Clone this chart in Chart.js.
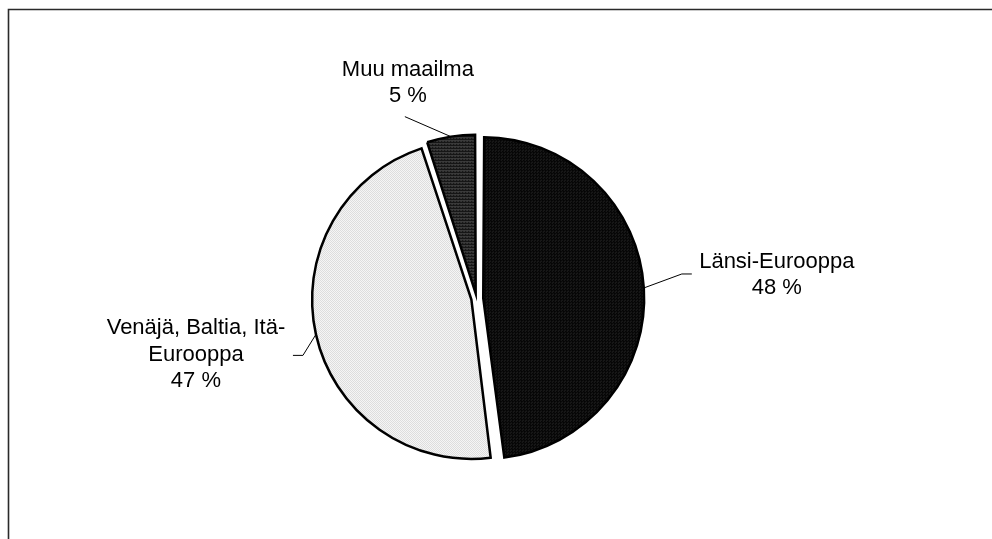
<!DOCTYPE html>
<html>
<head>
<meta charset="utf-8">
<script src="https://cdn.jsdelivr.net/npm/chart.js@4/dist/chart.umd.min.js"></script>
<style>
    html, body { margin: 0; padding: 0; background: #fff; }
    canvas { display: block; }
</style>
</head>
<body>
<canvas id="pieChart" width="992" height="539"></canvas>
<script>
// Chart data
const categories = ['Länsi-Eurooppa', 'Venäjä, Baltia, Itä-Eurooppa', 'Muu maailma'];
const shares = [48, 47, 5];
const labelLines = [['Länsi-Eurooppa'], ['Venäjä, Baltia, Itä-', 'Eurooppa'], ['Muu maailma']];

// label placement relative to the point on the slice edge
const labelLayout = [
    { elbow: [38, -14], end: [48, -14], text: [133, -20] },
    { elbow: [-13, 21], end: [-23, 21], text: [-120, 0] },
    { elbow: [-46, -20], end: [-46, -20], text: [-43, -61] }
];

function makePattern(base, dot, size, dots) {
    const c = document.createElement('canvas');
    c.width = size;
    c.height = size;
    const g = c.getContext('2d');
    g.fillStyle = base;
    g.fillRect(0, 0, size, size);
    g.fillStyle = dot;
    dots.forEach(d => g.fillRect(d[0], d[1], 1, 1));
    return g.createPattern(c, 'repeat');
}

const ctx = document.getElementById('pieChart').getContext('2d');
const fills = [
    makePattern('#050505', '#2e2e2e', 3, [[0, 0], [2, 1]]),
    makePattern('#ffffff', '#d4d4d4', 2, [[0, 0], [1, 1]]),
    makePattern('#3c3c3c', '#111111', 3, [[0, 0], [1, 0], [2, 0], [1, 2]])
];

const framePlugin = {
    id: 'frame',
    beforeDraw(chart) {
        const c = chart.ctx;
        c.save();
        c.strokeStyle = '#2a2a2a';
        c.lineWidth = 1.6;
        c.beginPath();
        c.moveTo(8.5, 539);
        c.lineTo(8.5, 9.5);
        c.lineTo(992, 9.5);
        c.stroke();
        c.restore();
    }
};

const labelPlugin = {
    id: 'pieLabels',
    afterDatasetsDraw(chart) {
        const c = chart.ctx;
        const meta = chart.getDatasetMeta(0);
        c.save();
        c.font = '22px "Liberation Sans", Arial, sans-serif';
        c.textAlign = 'center';
        c.textBaseline = 'alphabetic';
        c.fillStyle = '#000';
        c.strokeStyle = '#000';
        c.lineWidth = 1;
        meta.data.forEach((arc, i) => {
            const p = arc.getProps(['x', 'y', 'startAngle', 'endAngle', 'outerRadius', 'circumference'], true);
            const mid = (p.startAngle + p.endAngle) / 2;
            const off = (arc.options.offset || 0) / 4 * (2 - Math.sin(Math.min(Math.PI, p.circumference)));
            const ax = p.x + Math.cos(mid) * (p.outerRadius + off);
            const ay = p.y + Math.sin(mid) * (p.outerRadius + off);
            const lay = labelLayout[i];

            c.beginPath();
            c.moveTo(ax, ay);
            c.lineTo(ax + lay.elbow[0], ay + lay.elbow[1]);
            c.lineTo(ax + lay.end[0], ay + lay.end[1]);
            c.stroke();

            const lines = labelLines[i].concat([shares[i] + ' %']);
            lines.forEach((t, k) => {
                c.fillText(t, ax + lay.text[0], ay + lay.text[1] + k * 26.5);
            });
        });
        c.restore();
    }
};

new Chart(ctx, {
    type: 'pie',
    data: {
        labels: categories,
        datasets: [{
            data: shares,
            backgroundColor: fills,
            borderColor: '#000',
            borderWidth: 2.5,
            borderJoinStyle: 'miter',
            offset: [27, 21, 21]
        }]
    },
    options: {
        responsive: false,
        animation: false,
        radius: 155,
        layout: {
            padding: { left: 0, right: 39, top: 58, bottom: 0 }
        },
        plugins: {
            legend: { display: false },
            tooltip: { enabled: false }
        }
    },
    plugins: [framePlugin, labelPlugin]
});
</script>
</body>
</html>
